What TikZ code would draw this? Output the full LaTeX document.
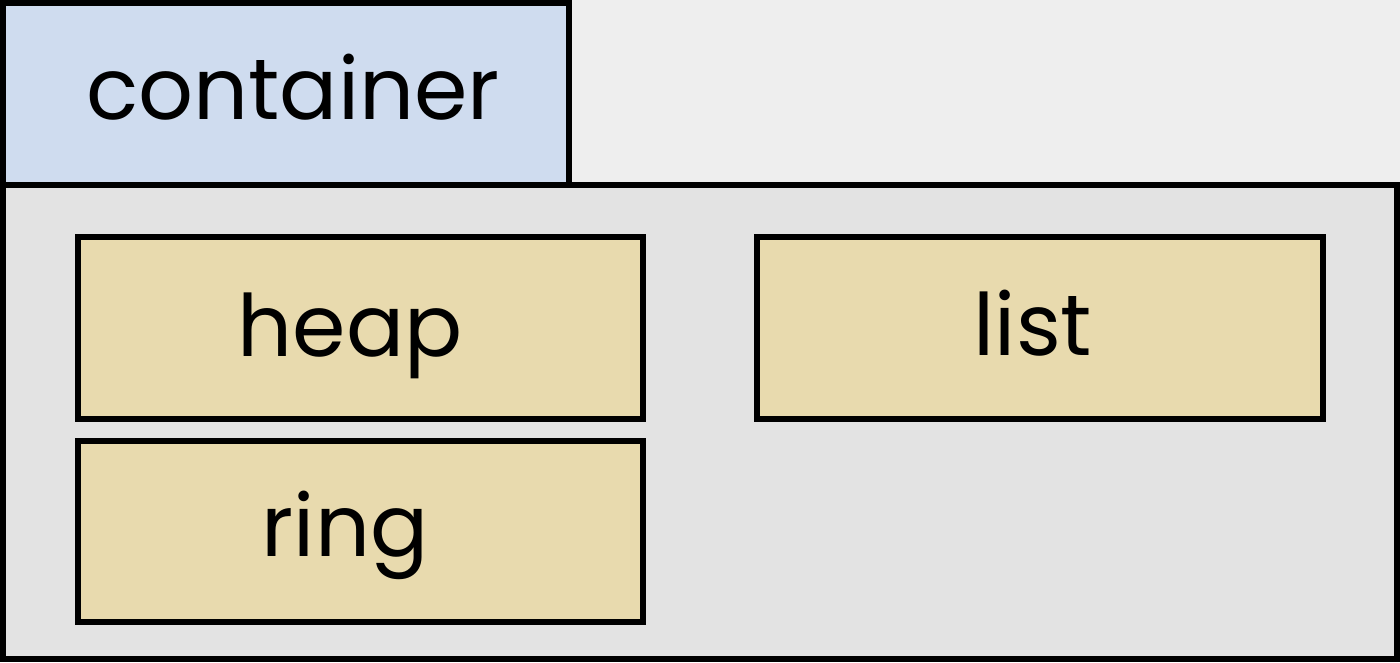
\documentclass[tikz,border=0pt]{standalone}
\usepackage{fontspec}
\setmainfont{Poppins}
\definecolor{bgc}{HTML}{EEEEEE}
\definecolor{tabc}{HTML}{CFDCEF}
\definecolor{mainc}{HTML}{E3E3E3}
\definecolor{boxc}{HTML}{E8DAAE}
\begin{document}
\begin{tikzpicture}[x=1pt,y=-1pt,
  frame/.style={draw=black,line width=6pt},
  item/.style={frame,fill=boxc},
  lbl/.style={anchor=base,inner sep=0pt,font=\fontsize{86}{96}\selectfont}]
\fill[bgc] (0,0) rectangle (1400,662);
\useasboundingbox (0,0) rectangle (1400,662);
\draw[frame,fill=mainc] (3,185) rectangle (1397,659);
\draw[frame,fill=tabc] (3,3) rectangle (569,185);
\node[lbl] (title) at (293,119) {container};
\draw[item] (78,237) rectangle (643,419);
\node[lbl] (heap) at (350,356) {heap};
\draw[item] (757,237) rectangle (1323,419);
\node[lbl] (list) at (1033,355) {list};
\draw[item] (78,441) rectangle (643,622);
\node[lbl] (ring) at (345,556) {ring};
\end{tikzpicture}
\end{document}
